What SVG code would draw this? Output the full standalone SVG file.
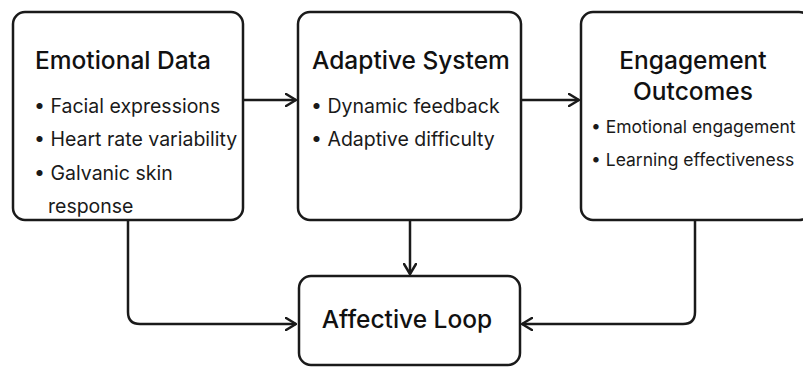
<svg xmlns="http://www.w3.org/2000/svg" width="803" height="367" viewBox="0 0 803 367">
<defs>
<style>
.box{fill:#fff;stroke:#1a1a1a;stroke-width:2.5}
.t{font-family:Inter,"Liberation Sans",sans-serif;font-size:24.5px;font-weight:500;fill:#111}
.b{font-family:Inter,"Liberation Sans",sans-serif;font-size:19.5px;font-weight:400;fill:#1a1a1a}
.s{font-size:17.5px}
.c{fill:none;stroke:#1a1a1a;stroke-width:2.5;stroke-linejoin:round}
</style>
<marker id="ah" viewBox="0 0 12 14" refX="11" refY="7" markerWidth="12" markerHeight="14" markerUnits="userSpaceOnUse" orient="auto">
<path d="M1,1 L11,7 L1,13" fill="none" stroke="#1a1a1a" stroke-width="2.5" stroke-linecap="round" stroke-linejoin="round"/>
</marker>
</defs>
<rect width="803" height="367" fill="#fff"/>
<g id="connectors">
<path class="c" d="M243,100 H296" marker-end="url(#ah)"/>
<path class="c" d="M521,100 H579" marker-end="url(#ah)"/>
<path class="c" d="M410,220 V274" marker-end="url(#ah)"/>
<path class="c" d="M128,220 V312 Q128,324 140,324 H296" marker-end="url(#ah)"/>
<path class="c" d="M695,220 V312 Q695,324 683,324 H522" marker-end="url(#ah)"/>
</g>
<g id="emotional-data">
<rect class="box" x="13" y="12" width="230" height="208" rx="12"/>
<text class="t" x="35" y="69">Emotional Data</text>
<text class="b" x="34" y="113">• Facial expressions</text>
<text class="b" x="34" y="146">• Heart rate variability</text>
<text class="b" x="34" y="180">• Galvanic skin</text>
<text class="b" x="48" y="213">response</text>
</g>
<g id="adaptive-system">
<rect class="box" x="298" y="12" width="223" height="208" rx="12"/>
<text class="t" x="312" y="69">Adaptive System</text>
<text class="b" x="311" y="113">• Dynamic feedback</text>
<text class="b" x="311" y="146">• Adaptive difficulty</text>
</g>
<g id="engagement-outcomes">
<rect class="box" x="581" y="12" width="230" height="208" rx="12"/>
<text class="t" x="693" y="69" text-anchor="middle">Engagement</text>
<text class="t" x="693" y="100" text-anchor="middle">Outcomes</text>
<text class="b s" x="591" y="133">• Emotional engagement</text>
<text class="b s" x="591" y="166">• Learning effectiveness</text>
</g>
<g id="affective-loop">
<rect class="box" x="299" y="276" width="221" height="89" rx="12"/>
<text class="t" x="407" y="328" text-anchor="middle">Affective Loop</text>
</g>
</svg>
